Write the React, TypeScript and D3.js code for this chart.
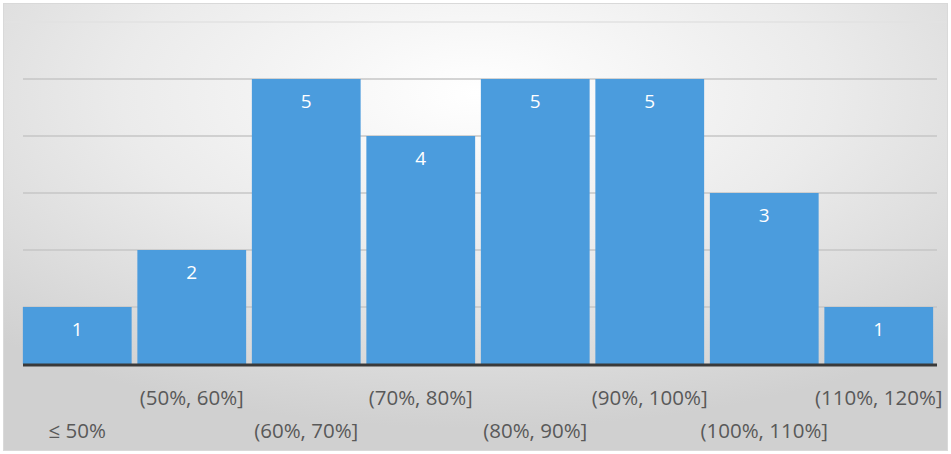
import React from "react";
import * as d3 from "d3";

const categories = ["≤ 50%", "(50%, 60%]", "(60%, 70%]", "(70%, 80%]", "(80%, 90%]", "(90%, 100%]", "(100%, 110%]", "(110%, 120%]"];
const counts = [1, 2, 5, 4, 5, 5, 3, 1];
const gridValues = [1, 2, 3, 4, 5];

const W = 951;
const H = 454;

export default function App() {
  const x = d3.scaleBand<string>().domain(categories).range([20, 936]).paddingInner(0.05).paddingOuter(0.025);
  const y = d3.scaleLinear().domain([0, 6]).range([364, 22]);
  const font = "'Open Sans', 'Noto Sans', sans-serif";
  return (
    <svg width={W} height={H} style={{ position: "absolute", left: 0, top: 0 }}>
      <defs>
        <radialGradient id="bg" cx="0.5" cy="0.2" r="0.75" gradientUnits="objectBoundingBox">
          <stop offset="0" stopColor="#ffffff" />
          <stop offset="0.5" stopColor="#ebebeb" />
          <stop offset="1" stopColor="#d0d0d0" />
        </radialGradient>
      </defs>
      <rect x={3.5} y={3.5} width={W - 7} height={H - 7} fill="url(#bg)" stroke="#d9d9d9" strokeWidth={1} />
      <line x1={4} x2={W - 4} y1={y(6)} y2={y(6)} stroke="#e2e2e2" strokeWidth={1.5} />
      {gridValues.map((v) => (
        <line key={v} x1={23} x2={937} y1={y(v)} y2={y(v)} stroke="#c6c6c6" strokeWidth={1.5} />
      ))}
      {categories.map((c, i) => (
        <rect key={c} x={x(c)} y={y(counts[i])} width={x.bandwidth()} height={y(0) - y(counts[i])} fill="#4b9cdd" />
      ))}
      {categories.map((c, i) => (
        <text key={"v" + c} x={(x(c) as number) + x.bandwidth() / 2} y={y(counts[i]) + 29} textAnchor="middle" fill="#ffffff" fontFamily={font} fontSize={19}>
          {counts[i]}
        </text>
      ))}
      <line x1={23} x2={937} y1={y(0) + 1} y2={y(0) + 1} stroke="#3a3a3a" strokeWidth={3} />
      {categories.map((c, i) => (
        <text key={"c" + c} x={(x(c) as number) + x.bandwidth() / 2} y={i % 2 === 0 ? 438 : 405} textAnchor="middle" fill="#595959" fontFamily={font} fontSize={20.5}>
          {c}
        </text>
      ))}
    </svg>
  );
}
